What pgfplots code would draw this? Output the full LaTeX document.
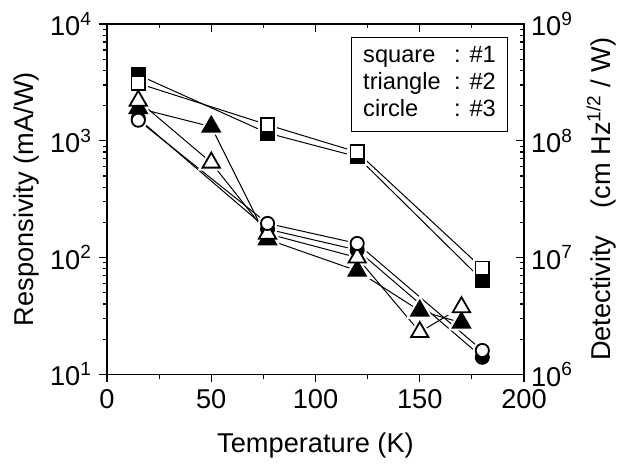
\documentclass[border=0pt]{standalone}
\usepackage{fontspec}
\setmainfont{Liberation Sans}
\usepackage{pgfplots}
\pgfplotsset{compat=1.18}
\usepackage{pgfplotstable}

% filled symbols: responsivity (mA/W), left axis
\pgfplotstableread{
T R
15 3660
77 1164
120 731
180 64
}\Rone
\pgfplotstableread{
T R
15 1900
50 1320
77 143
120 77
150 35
170 27.7
}\Rtwo
\pgfplotstableread{
T R
15 1550
77 175
120 116
180 14
}\Rthree
% open symbols: detectivity (cm Hz^1/2 / W), right axis
\pgfplotstableread{
T D
15 3.1e8
77 1.37e8
120 8.0e7
180 8.1e6
}\Done
\pgfplotstableread{
T D
15 2.2e8
50 6.5e7
77 1.6e7
120 1.0e7
150 2.3e6
170 3.76e6
}\Dtwo
\pgfplotstableread{
T D
15 1.5e8
77 1.96e7
120 1.32e7
180 1.6e6
}\Dthree

\pgfplotsset{
  halo/.style={only marks, mark options={draw=white, fill=white, line width=3pt}},
  fmark/.style={only marks, mark options={draw=black, fill=black, line width=0.9pt}},
  omark/.style={only marks, mark options={draw=black, fill=white, line width=0.9pt}},
  conn/.style={no marks, line width=0.5pt, black},
}

\begin{document}
\begin{tikzpicture}
\useasboundingbox (-53.5pt,-44.35pt) rectangle (259.5pt,187.15pt);
\begin{axis}[
  scale only axis, width=208.5pt, height=175.15pt,
  xmin=0, xmax=200, ymode=log,
  axis line style={line width=0.7pt},
  every tick/.style={line width=0.6pt, black},
  major tick length=4pt, minor tick length=2.2pt,
  font=\fontsize{13.6}{15.5}\selectfont,
  /pgf/number format/assume math mode=true,
  xtick={0,50,100,150,200}, minor x tick num=1,
  ymin=10, ymax=1e4,
  xtick pos=bottom, ytick pos=left, tick align=outside,
  ytick={10,100,1000,10000},
  yticklabels={10\textsuperscript{1},10\textsuperscript{2},10\textsuperscript{3},10\textsuperscript{4}},
  minor ytick={20,30,40,50,60,70,80,90,200,300,400,500,600,700,800,900,2000,3000,4000,5000,6000,7000,8000,9000},
  xlabel={Temperature (K)},
  xlabel style={yshift=-5pt},
  ylabel={Responsivity (mA/W)},
  ylabel style={yshift=-1.5pt},
]
% connecting lines
\addplot[conn] table[x=T,y=R] {\Rone};
\addplot[conn] table[x=T,y=R] {\Rtwo};
\addplot[conn] table[x=T,y=R] {\Rthree};
\addplot[conn] table[x=T,y expr=\thisrow{D}*1e-5] {\Done};
\addplot[conn] table[x=T,y expr=\thisrow{D}*1e-5] {\Dtwo};
\addplot[conn] table[x=T,y expr=\thisrow{D}*1e-5] {\Dthree};
% white halos (gaps around symbols)
\addplot[halo, mark=square*, mark size=3.4pt] table[x=T,y=R] {\Rone};
\addplot[halo, mark=triangle*, mark size=5pt] table[x=T,y=R] {\Rtwo};
\addplot[halo, mark=*, mark size=3.3pt] table[x=T,y=R] {\Rthree};
\addplot[halo, mark=square*, mark size=3.4pt] table[x=T,y expr=\thisrow{D}*1e-5] {\Done};
\addplot[halo, mark=triangle*, mark size=5pt] table[x=T,y expr=\thisrow{D}*1e-5] {\Dtwo};
\addplot[halo, mark=*, mark size=3.3pt] table[x=T,y expr=\thisrow{D}*1e-5] {\Dthree};
% filled symbols
\addplot[fmark, mark=square*, mark size=3.4pt] table[x=T,y=R] {\Rone};
\addplot[fmark, mark=triangle*, mark size=5pt] table[x=T,y=R] {\Rtwo};
\addplot[fmark, mark=*, mark size=3.3pt] table[x=T,y=R] {\Rthree};
% open symbols
\addplot[omark, mark=square*, mark size=3.4pt] table[x=T,y expr=\thisrow{D}*1e-5] {\Done};
\addplot[omark, mark=triangle*, mark size=5pt] table[x=T,y expr=\thisrow{D}*1e-5] {\Dtwo};
\addplot[omark, mark=*, mark size=3.3pt] table[x=T,y expr=\thisrow{D}*1e-5] {\Dthree};
% key box
\node[draw, line width=0.6pt, anchor=north east, inner xsep=5.8pt, inner ysep=3.5pt,
      minimum width=76pt, font=\fontsize{11.8}{13.3}\selectfont]
  at (rel axis cs:0.9616,0.9637)
  {\begin{tabular}{@{}p{45.5pt}@{}l@{}}square & : \#1\\ triangle & : \#2\\ circle & : \#3\end{tabular}};
\end{axis}
\begin{axis}[
  scale only axis, width=208.5pt, height=175.15pt,
  xmin=0, xmax=200, ymode=log,
  axis line style={line width=0.7pt},
  every tick/.style={line width=0.6pt, black},
  major tick length=4pt, minor tick length=2.2pt,
  font=\fontsize{13.6}{15.5}\selectfont,
  /pgf/number format/assume math mode=true,
  xtick={0,50,100,150,200}, minor x tick num=1,
  ymin=1e6, ymax=1e9,
  xtick pos=top, ytick pos=right, tick align=inside,
  xticklabels={},
  ytick={1e6,1e7,1e8,1e9},
  yticklabels={10\textsuperscript{6},10\textsuperscript{7},10\textsuperscript{8},10\textsuperscript{9}},
  minor ytick={2e6,3e6,4e6,5e6,6e6,7e6,8e6,9e6,2e7,3e7,4e7,5e7,6e7,7e7,8e7,9e7,2e8,3e8,4e8,5e8,6e8,7e8,8e8,9e8},
  ylabel={Detectivity\quad(cm Hz\textsuperscript{1/2} / W)},
]
\addplot[draw=none, forget plot] coordinates {(0,1e6) (200,1e9)};
\end{axis}
\end{tikzpicture}
\end{document}
